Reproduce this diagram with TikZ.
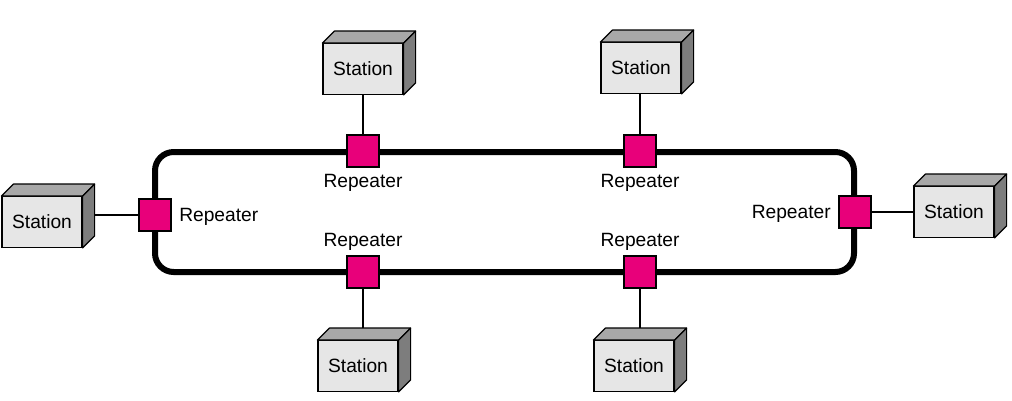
\documentclass[tikz,border=0pt]{standalone}
\usepackage{fontspec}
\setmainfont{Liberation Sans}
\usetikzlibrary{backgrounds}
\definecolor{repfill}{RGB}{232,0,122}
\definecolor{frontgray}{RGB}{230,230,230}
\definecolor{topgray}{RGB}{168,168,168}
\definecolor{sidegray}{RGB}{125,125,125}
\newcommand{\stationfaces}[1]{%
  \filldraw[fill=topgray,line width=0.9pt,line join=round] (#1.north west) -- ++(12,-12) -- ([shift={(12,-12)}]#1.north east) -- (#1.north east) -- cycle;
  \filldraw[fill=sidegray,line width=0.9pt,line join=round] (#1.north east) -- ++(12,-12) -- ([shift={(12,-12)}]#1.south east) -- (#1.south east) -- cycle;}
\begin{document}
\begin{tikzpicture}[x=0.75pt,y=-0.75pt,
  station/.style={draw,line width=0.9pt,fill=frontgray,minimum width=60pt,minimum height=38pt,inner sep=0pt,font=\fontsize{14.4}{16}\selectfont},
  repeater/.style={draw,line width=0.9pt,fill=repfill,minimum size=24pt,inner sep=0pt},
  lbl/.style={font=\fontsize{14.4}{16}\selectfont,inner sep=0pt},
  link/.style={line width=1pt}]
\useasboundingbox (0,0) rectangle (1012,400);
% stations (front faces)
\node[station] (st1) at (363,69) {Station};
\node[station] (st2) at (641,68) {Station};
\node[station] (sl) at (42,222) {Station};
\node[station] (sr) at (954,212) {Station};
\node[station] (sb1) at (358,366) {Station};
\node[station] (sb2) at (634,366) {Station};
% station depth faces
\stationfaces{st1}
\stationfaces{st2}
\stationfaces{sl}
\stationfaces{sr}
\stationfaces{sb1}
\stationfaces{sb2}
% ring
\draw[line width=4.5pt,rounded corners=14] (155,152) rectangle (854,272);
% repeaters
\node[repeater] (Rt1) at (363,151) {};
\node[repeater] (Rt2) at (640,151) {};
\node[repeater] (Rb1) at (363,272) {};
\node[repeater] (Rb2) at (640,272) {};
\node[repeater] (Rl) at (155,215) {};
\node[repeater] (Rr) at (855,212) {};
% connectors
\begin{scope}[on background layer]
\draw[link] (Rt1.north) -- (Rt1.north |- st1.south);
\draw[link] (Rt2.north) -- (Rt2.north |- st2.south);
\draw[link] (Rb1.south) -- ([yshift=-6]Rb1.south |- sb1.north);
\draw[link] (Rb2.south) -- ([yshift=-6]Rb2.south |- sb2.north);
\draw[link] (Rl.west) -- ([xshift=6]Rl.west -| sl.east);
\draw[link] (Rr.east) -- (Rr.east -| sr.west);
\end{scope}
% labels
\node[lbl] (Lt1) at (363,183) {Repeater};
\node[lbl] (Lt2) at (640,183) {Repeater};
\node[lbl] (Lb1) at (363,242) {Repeater};
\node[lbl] (Lb2) at (640,242) {Repeater};
\node[lbl,anchor=west] (Ll) at (179,217) {Repeater};
\node[lbl,anchor=east] (Lr) at (831,214) {Repeater};
\end{tikzpicture}
\end{document}
